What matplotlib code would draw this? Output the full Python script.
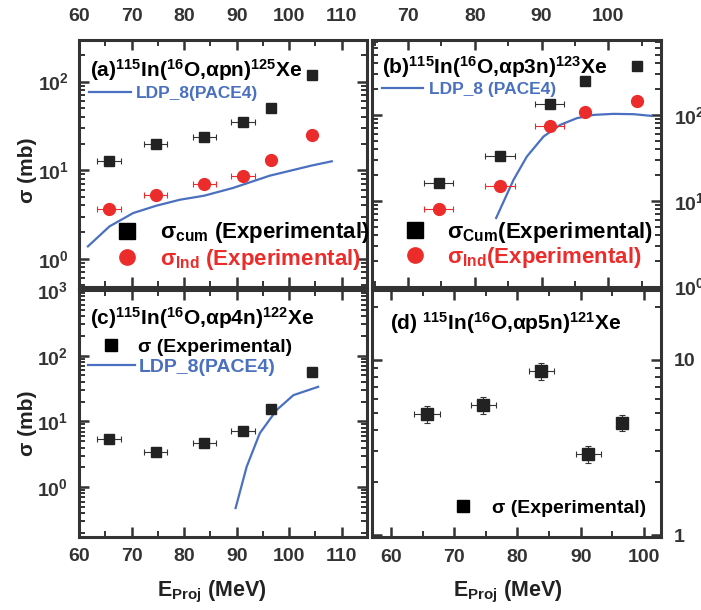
import numpy as np
import matplotlib
matplotlib.use("Agg")
import matplotlib.pyplot as plt
from matplotlib.ticker import MultipleLocator, LogLocator, NullFormatter, FuncFormatter
from matplotlib.lines import Line2D

plt.rcParams['font.family'] = ['Liberation Sans', 'DejaVu Sans']
plt.rcParams['font.weight'] = 'bold'
plt.rcParams['axes.labelweight'] = 'bold'
plt.rcParams['mathtext.fontset'] = 'custom'
plt.rcParams['mathtext.rm'] = 'Liberation Sans:bold'
plt.rcParams['mathtext.it'] = 'Liberation Sans:bold'
plt.rcParams['mathtext.bf'] = 'Liberation Sans:bold'
plt.rcParams['mathtext.sf'] = 'Liberation Sans:bold'

# projectile energies (MeV)
E = [65.7, 74.6, 83.8, 91.2, 96.5, 104.3]

# (a) 115In(16O,apn)125Xe
cum_a = [12.6, 19.9, 23.5, 34.7, 50.5, 120]
ind_a = [3.67, 5.19, 6.98, 8.5, 13.1, 24.7]
xerr_a = [2.2, 2.2, 2.2, 2.2, 0, 0]
pace_a_E = [61.7, 65.8, 70.3, 74.7, 79.2, 83.8, 89.3, 96.3, 104.3, 108.1]
pace_a = [1.38, 2.32, 3.28, 3.97, 4.64, 5.15, 6.3, 8.67, 11.3, 12.6]

# (b) 115In(16O,ap3n)123Xe
E_b = E[1:]
cum_b = [16.1, 33.6, 134, 249, 374]
ind_b = [8.0, 14.7, 74.5, 109, 146]
xerr_b = [2.2, 2.2, 2.2, 0, 0]
yerr_b = [0.05, 0.05, 0.05, 0.09, 0.08]
pace_b_E = [83.2, 85.8, 87.8, 90.3, 92.8, 95.3, 97.8, 100.8, 103.8, 106.5]
pace_b = [6.3, 17.5, 32.7, 56, 76.5, 91.6, 100, 102.8, 101.9, 97.3]

# (c) 115In(16O,ap4n)122Xe
sig_c = [5.38, 3.37, 4.62, 7.19, 15.2, 56.9]
xerr_c = [2.2, 2.2, 2.2, 2.2, 0, 1.0]
pace_c_E = [89.8, 91.9, 94.4, 97.6, 100.8, 105.5]
pace_c = [0.48, 2.04, 6.6, 14.9, 25.1, 33.6]

# (d) 115In(16O,ap5n)121Xe
E_d = E[:5]
sig_d = [4.9, 5.53, 8.58, 2.9, 4.38]
xerr_d = [2.0, 2.0, 2.0, 2.0, 0.5]
yerr_d = [0.11, 0.11, 0.11, 0.11, 0.11]

BLACK = '#222222'
RED = '#ec2b2b'
BLUE = '#4a70bf'
GRAY = '#333333'


def style(ax):
    for s in ax.spines.values():
        s.set_linewidth(2.2)
        s.set_color(GRAY)
    ax.tick_params(which='both', direction='in', top=True, right=True,
                   colors=GRAY, labelsize=14)
    ax.tick_params(which='major', length=7, width=1.8)
    ax.tick_params(which='minor', length=4, width=1.4)
    ax.xaxis.set_major_locator(MultipleLocator(10))
    ax.xaxis.set_minor_locator(MultipleLocator(5))
    ax.yaxis.set_minor_locator(LogLocator(base=10, subs=np.arange(2, 10), numticks=20))
    ax.yaxis.set_minor_formatter(NullFormatter())


def rel(v, r):
    return [a * b for a, b in zip(v, r)]


def ylab(ax, y):
    ax.set_ylabel('σ (mb)', fontsize=15, color='#222222')
    ax.yaxis.label.set_va('center')
    ax.yaxis.label.set_ha('center')
    ax.yaxis.set_label_coords(-0.18, y)


def xlab(ax, x):
    ax.set_xlabel(r'E$_{Proj}$ (MeV)', fontsize=15.5, color='#222222')
    ax.xaxis.label.set_va('center')
    ax.xaxis.set_label_coords(x, -0.223)


fig = plt.figure(figsize=(7.01, 6.10), dpi=100)
W, H = 701.0, 610.0
ax_a = fig.add_axes([79 / W, 1 - 287 / H, 288 / W, 247 / H])
ax_b = fig.add_axes([372 / W, 1 - 287 / H, 289 / W, 247 / H])
ax_c = fig.add_axes([79 / W, 1 - 537 / H, 288 / W, 247 / H])
ax_d = fig.add_axes([372 / W, 1 - 537 / H, 289 / W, 247 / H])

ebar = dict(elinewidth=0.8, capsize=2, capthick=0.8, zorder=3)

# ---- (a)
ax = ax_a
ax.set_yscale('log')
ax.errorbar(E, cum_a, xerr=xerr_a, yerr=rel(cum_a, [0.05] * 6), fmt='s', ms=7.5,
            color=BLACK, ecolor=GRAY, **ebar)
ax.errorbar(E, ind_a, xerr=xerr_a, yerr=rel(ind_a, [0.05] * 6), fmt='o', ms=8.5,
            color=RED, ecolor=RED, **ebar)
ax.plot(pace_a_E, pace_a, color=BLUE, lw=1.6)
ax.set_xlim(60, 114.8)
ax.set_ylim(0.48, 295)
style(ax)
ax.tick_params(labeltop=True, labelbottom=False, pad=11)
ax.tick_params(axis='y', pad=7)
ylab(ax, 0.474)
ax.text(0.038, 0.85, r'(a)$^{115}$In($^{16}$O,αpn)$^{125}$Xe', transform=ax.transAxes,
        fontsize=15, va='baseline')
leg = ax.legend([Line2D([], [], color=BLUE, lw=1.6)], ['LDP_8(PACE4)'], loc='center left',
                bbox_to_anchor=(0.035, 0.785), frameon=False, borderpad=0, borderaxespad=0,
                handlelength=2.4, handletextpad=0.3, fontsize=12.5, labelcolor=BLUE)
ax.add_artist(leg)
ax.legend([Line2D([], [], marker='s', ls='none', color='black', ms=11),
           Line2D([], [], marker='o', ls='none', color=RED, ms=11)],
          [r'σ$_{cum}$ (Experimental)', r'σ$_{Ind}$ (Experimental)'],
          loc='center left', bbox_to_anchor=(0.109, 0.166), frameon=False, borderpad=0,
          borderaxespad=0, handlelength=1.5, handletextpad=0.74, labelspacing=0.05,
          fontsize=16, labelcolor=['black', RED])

# ---- (b)
ax = ax_b
ax.set_yscale('log')
ax.errorbar(E_b, cum_b, xerr=xerr_b, yerr=rel(cum_b, yerr_b), fmt='s', ms=7.5,
            color=BLACK, ecolor=GRAY, **ebar)
ax.errorbar(E_b, ind_b, xerr=xerr_b, yerr=rel(ind_b, yerr_b), fmt='o', ms=8.5,
            color=RED, ecolor=RED, **ebar)
ax.plot(pace_b_E, pace_b, color=BLUE, lw=1.6)
ax.set_xlim(64.6, 107.9)
ax.set_ylim(0.99, 745)
style(ax)
ax.tick_params(labeltop=True, labelbottom=False, labelleft=False, labelright=True, pad=11)
ax.tick_params(axis='y', pad=9)
ax.text(0.035, 0.862, r'(b)$^{115}$In($^{16}$O,αp3n)$^{123}$Xe', transform=ax.transAxes,
        fontsize=15, va='baseline')
leg = ax.legend([Line2D([], [], color=BLUE, lw=1.6)], ['LDP_8 (PACE4)'], loc='center left',
                bbox_to_anchor=(0.034, 0.798), frameon=False, borderpad=0, borderaxespad=0,
                handlelength=2.4, handletextpad=0.3, fontsize=12.5, labelcolor=BLUE)
ax.add_artist(leg)
ax.legend([Line2D([], [], marker='s', ls='none', color='black', ms=11),
           Line2D([], [], marker='o', ls='none', color=RED, ms=11)],
          [r'σ$_{Cum}$(Experimental)', r'σ$_{Ind}$(Experimental)'],
          loc='center left', bbox_to_anchor=(0.091, 0.172), frameon=False, borderpad=0,
          borderaxespad=0, handlelength=1.5, handletextpad=0.7, labelspacing=0.0,
          fontsize=16, labelcolor=['black', RED])

# ---- (c)
ax = ax_c
ax.set_yscale('log')
ax.errorbar(E, sig_c, xerr=xerr_c, yerr=rel(sig_c, [0.05] * 6), fmt='s', ms=7.5,
            color=BLACK, ecolor=GRAY, **ebar)
ax.plot(pace_c_E, pace_c, color=BLUE, lw=1.6)
ax.set_xlim(60, 114.8)
ax.set_ylim(0.174, 1000)
style(ax)
ax.tick_params(pad=8)
ylab(ax, 0.46)
xlab(ax, 0.46)
ax.text(0.038, 0.858, r'(c)$^{115}$In($^{16}$O,αp4n)$^{122}$Xe', transform=ax.transAxes,
        fontsize=15, va='baseline')
ax.legend([Line2D([], [], marker='s', ls='none', color='black', ms=8.5),
           Line2D([], [], color=BLUE, lw=1.6)],
          ['σ (Experimental)', 'LDP_8(PACE4)'],
          loc='center left', bbox_to_anchor=(0.031, 0.729), frameon=False, borderpad=0,
          borderaxespad=0, handlelength=2.4, handletextpad=0.2, labelspacing=0.1,
          fontsize=14, labelcolor=['black', BLUE])

# ---- (d)
ax = ax_d
ax.set_yscale('log')
ax.errorbar(E_d, sig_d, xerr=xerr_d, yerr=rel(sig_d, yerr_d), fmt='s', ms=8.5,
            color=BLACK, ecolor=GRAY, **ebar)
ax.set_xlim(57.0, 102.7)
ax.set_ylim(0.975, 25)
style(ax)
ax.tick_params(labelleft=False, labelright=True, pad=9)
ax.yaxis.set_major_formatter(FuncFormatter(lambda v, p: '%g' % v))
xlab(ax, 0.47)
ax.text(0.062, 0.838, r'(d) $^{115}$In($^{16}$O,αp5n)$^{121}$Xe', transform=ax.transAxes,
        fontsize=15, va='baseline')
ax.legend([Line2D([], [], marker='s', ls='none', color='black', ms=8.5)],
          ['σ (Experimental)'], loc='center left', bbox_to_anchor=(0.265, 0.117),
          frameon=False, borderpad=0, borderaxespad=0, handlelength=1.5,
          handletextpad=0.75, fontsize=14)

fig.savefig('out.png', dpi=100)
